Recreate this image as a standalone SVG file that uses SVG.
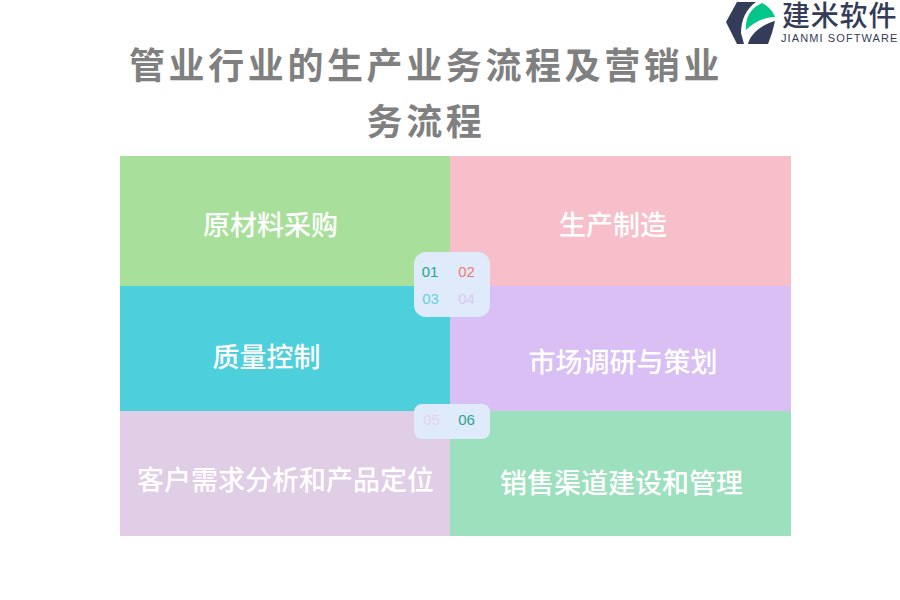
<svg xmlns="http://www.w3.org/2000/svg" width="900" height="600" viewBox="0 0 900 600">
<style>
text{font-family:"Noto Sans CJK SC","Noto Sans",sans-serif}
.t{font-size:36px;font-weight:700;fill:#808080;letter-spacing:3.6px;text-anchor:middle}
.l{font-size:27px;font-weight:500;fill:#fff;text-anchor:middle}
.n{font-size:15px;font-family:"Liberation Sans",sans-serif;text-anchor:middle}
.b{fill:#dfeafa}
</style>
<rect width="900" height="600" fill="#fff"/>
<g id="logo">
<path d="M737 2H756C746 9 741 20 741 33L744 44H737L726 22Z" fill="#333c58"/>
<path d="M746 30C745 17 751 8 762 3C768 6 773 11 775 17C763 17 753 23 746 30Z" fill="#04c688"/>
<path d="M748 44C750 35 760 25 775 21L772 33L768 44Z" fill="#333c58"/>
<text x="782" y="26" font-size="28" font-weight="500" fill="#333c58" style="letter-spacing:.8px">建米软件</text>
<text x="781" y="42" font-size="11" fill="#333c58" style="font-family:'Liberation Sans',sans-serif;letter-spacing:1.1px">JIANMI SOFTWARE</text>
</g>
<g id="title">
<text class="t" x="426" y="79">管业行业的生产业务流程及营销业</text>
<text class="t" x="426" y="135">务流程</text>
</g>
<g id="node1"><rect x="120" y="156" width="330" height="130" fill="#a8df9b"/><text class="l" x="270.500" y="235">原材料采购</text></g>
<g id="node2"><rect x="450" y="156" width="341" height="130" fill="#f7bfca"/><text class="l" x="613" y="235">生产制造</text></g>
<g id="node3"><rect x="120" y="286" width="330" height="125" fill="#4dd0dc"/><text class="l" x="266.500" y="367">质量控制</text></g>
<g id="node4"><rect x="450" y="286" width="341" height="125" fill="#d9bff4"/><text class="l" x="623" y="372">市场调研与策划</text></g>
<g id="node5"><rect x="120" y="411" width="330" height="125" fill="#e0cde6"/><text class="l" x="285.500" y="490">客户需求分析和产品定位</text></g>
<g id="node6"><rect x="450" y="411" width="341" height="125" fill="#9de0be"/><text class="l" x="621.500" y="493">销售渠道建设和管理</text></g>
<g id="badges">
<rect class="b" x="414" y="252" width="76" height="65" rx="12"/>
<rect class="b" x="414" y="404" width="76" height="35" rx="8"/>
<text class="n" x="430" y="277" fill="#2aa58c">01</text>
<text class="n" x="466.500" y="277" fill="#f4796e">02</text>
<text class="n" x="430.500" y="304" fill="#62d3de">03</text>
<text class="n" x="466.500" y="304" fill="#dcc8f4">04</text>
<text class="n" x="431.500" y="425" fill="#e6d4ea">05</text>
<text class="n" x="466.500" y="425" fill="#2aa58c">06</text>
</g>
</svg>
